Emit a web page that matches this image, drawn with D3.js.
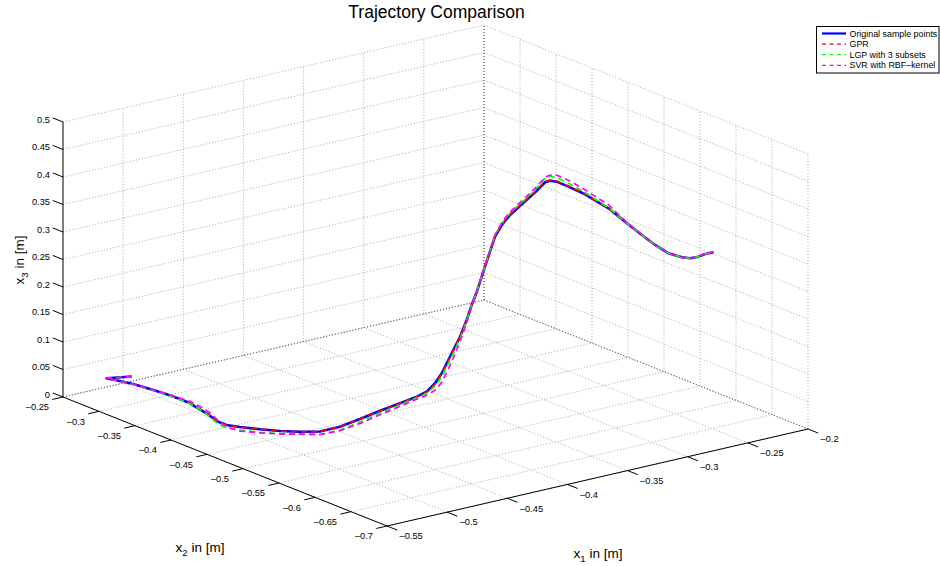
<!DOCTYPE html>
<html><head><meta charset="utf-8">
<script src="https://cdn.jsdelivr.net/npm/d3@7"></script>
<style>body{margin:0;background:#fff}svg text{font-family:"Liberation Sans",Arial,Helvetica,sans-serif;fill:#000}</style>
</head><body><svg id="c" width="940" height="566"></svg>
<script>
// ---------------- data ----------------
const seriesNames = ["Original sample points", "GPR", "LGP with 3 subsets", "SVR with RBF\u2013kernel"];
const seriesColors = ["#0000ff", "#ff0000", "#00ff00", "#ff00ff"];
const x1Ticks = [-0.55, -0.5, -0.45, -0.4, -0.35, -0.3, -0.25, -0.2];
const x2Ticks = [-0.25, -0.3, -0.35, -0.4, -0.45, -0.5, -0.55, -0.6, -0.65, -0.7];
const x3Ticks = [0, 0.05, 0.1, 0.15, 0.2, 0.25, 0.3, 0.35, 0.4, 0.45, 0.5];

const x1Vals = [-0.5194,-0.5351,-0.5317,-0.5279,-0.5242,-0.5210,-0.5188,-0.5177,-0.5182,-0.5192,
  -0.5206,-0.5191,-0.5133,-0.5043,-0.4953,-0.4857,-0.4756,-0.4609,-0.4431,-0.4252,
  -0.4085,-0.3946,-0.3864,-0.3796,-0.3774,-0.3745,-0.3732,-0.3703,-0.3665,-0.3622,
  -0.3601,-0.3557,-0.3512,-0.3469,-0.3424,-0.3357,-0.3263,-0.3143,-0.3031,-0.2984,
  -0.2947,-0.2894,-0.2819,-0.2793,-0.2750,-0.2731,-0.2709,-0.2684,-0.2651,-0.2575,
  -0.2523,-0.2458,-0.2394,-0.2343];
const x2Vals = [-0.2945,-0.2856,-0.2984,-0.3105,-0.3277,-0.3455,-0.3602,-0.3723,-0.3870,-0.4026,
  -0.4165,-0.4256,-0.4344,-0.4472,-0.4599,-0.4716,-0.4826,-0.4858,-0.4838,-0.4818,
  -0.4817,-0.4817,-0.4818,-0.4820,-0.4877,-0.4920,-0.4968,-0.5012,-0.5041,-0.5039,
  -0.5075,-0.5092,-0.5109,-0.5107,-0.5126,-0.5129,-0.5135,-0.5120,-0.5071,-0.5061,
  -0.5093,-0.5165,-0.5272,-0.5322,-0.5482,-0.5681,-0.5877,-0.6020,-0.6150,-0.6209,
  -0.6237,-0.6244,-0.6230,-0.6259];
const x3Orig = [0.045,0.045,0.045,0.044,0.042,0.040,0.038,0.036,0.033,0.030,
  0.027,0.025,0.023,0.021,0.020,0.020,0.021,0.024,0.028,0.033,
  0.038,0.043,0.048,0.060,0.080,0.105,0.125,0.150,0.180,0.205,
  0.230,0.265,0.300,0.325,0.345,0.360,0.375,0.390,0.400,0.400,
  0.398,0.390,0.378,0.372,0.360,0.345,0.330,0.318,0.308,0.300,
  0.297,0.297,0.298,0.300];
const x3GPR = [0.045,0.045,0.045,0.044,0.042,0.040,0.038,0.036,0.033,0.030,
  0.027,0.025,0.023,0.021,0.020,0.020,0.021,0.024,0.028,0.033,
  0.038,0.043,0.047,0.059,0.079,0.104,0.125,0.150,0.180,0.205,
  0.231,0.266,0.301,0.326,0.346,0.361,0.376,0.391,0.401,0.401,
  0.399,0.391,0.378,0.372,0.360,0.345,0.330,0.318,0.308,0.300,
  0.297,0.297,0.298,0.300];
const x3LGP = [0.045,0.045,0.045,0.0431,0.0411,0.0391,0.0371,0.0351,0.033,0.0282,
  0.0225,0.0195,0.0175,0.0155,0.0155,0.0155,0.0155,0.0176,0.0225,0.0285,
  0.0353,0.0412,0.0453,0.0545,0.0736,0.0986,0.1195,0.1464,0.1782,0.205,
  0.2309,0.2659,0.3018,0.3277,0.3486,0.3636,0.3786,0.3945,0.4073,0.4082,
  0.4053,0.3964,0.3816,0.3747,0.3609,0.345,0.33,0.318,0.308,0.30,
  0.297,0.297,0.298,0.30];
const x3SVR = [0.045,0.045,0.045,0.044,0.042,0.0409,0.0398,0.0396,0.0385,0.0355,
  0.0288,0.0214,0.0157,0.0146,0.0145,0.0155,0.0155,0.0167,0.0198,0.0257,
  0.0325,0.0385,0.0416,0.0473,0.0636,0.0886,0.1105,0.1409,0.1745,0.2032,
  0.2309,0.2668,0.3018,0.3277,0.3495,0.3655,0.3814,0.3973,0.4091,0.41,
  0.4098,0.4018,0.3862,0.3793,0.3664,0.3468,0.33,0.318,0.308,0.30,
  0.297,0.297,0.298,0.30];
const x3Series = [x3Orig, x3GPR, x3LGP, x3SVR];

// ---------------- projection ----------------
const svg = d3.select("#c");
const origin = [387, 526];          // screen position of (x1min, x2min, x3min)
const e1 = [421, -97], e2 = [-324, -129], e3 = [0, -275];
const s1 = d3.scaleLinear().domain([-0.55, -0.2]).range([0, 1]);
const s2 = d3.scaleLinear().domain([-0.7, -0.25]).range([0, 1]);
const s3 = d3.scaleLinear().domain([0, 0.5]).range([0, 1]);
function P(a, b, c) {
  const u = s1(a), v = s2(b), w = s3(c);
  return [origin[0] + u*e1[0] + v*e2[0] + w*e3[0], origin[1] + u*e1[1] + v*e2[1] + w*e3[1]];
}
const X1 = s1.domain(), X2 = s2.domain(), X3 = s3.domain();
const fmt = v => (v < 0 ? "\u2013" : "") + String(Math.abs(v));

// ---------------- grid ----------------
const grid = [];
x3Ticks.forEach(z => { grid.push([P(X1[0], X2[1], z), P(X1[1], X2[1], z)]); grid.push([P(X1[1], X2[1], z), P(X1[1], X2[0], z)]); });
x1Ticks.forEach(x => { if (x !== X1[0]) grid.push([P(x, X2[1], 0), P(x, X2[1], 0.5)]); grid.push([P(x, X2[0], 0), P(x, X2[1], 0)]); });
x2Ticks.forEach(y => { grid.push([P(X1[1], y, 0), P(X1[1], y, 0.5)]); grid.push([P(X1[0], y, 0), P(X1[1], y, 0)]); });
svg.append("g").selectAll("line").data(grid).join("line")
  .attr("x1", d => d[0][0]).attr("y1", d => d[0][1]).attr("x2", d => d[1][0]).attr("y2", d => d[1][1])
  .attr("stroke", "#a0a0a0").attr("stroke-width", 0.9).attr("stroke-dasharray", "1,2");
const edges = [[P(X1[0], X2[1], 0), P(X1[1], X2[1], 0)], [P(X1[1], X2[1], 0), P(X1[1], X2[0], 0)], [P(X1[1], X2[1], 0), P(X1[1], X2[1], 0.5)]];
svg.append("g").selectAll("line").data(edges).join("line")
  .attr("x1", d => d[0][0]).attr("y1", d => d[0][1]).attr("x2", d => d[1][0]).attr("y2", d => d[1][1])
  .attr("stroke", "#555").attr("stroke-width", 0.9).attr("stroke-dasharray", "1,2");

// ---------------- axes ----------------
const ax = svg.append("g").attr("stroke", "#000").attr("stroke-width", 1);
function seg(p, q) { ax.append("line").attr("x1", p[0]).attr("y1", p[1]).attr("x2", q[0]).attr("y2", q[1]); }
seg(P(X1[0], X2[1], 0), P(X1[0], X2[1], 0.5));
seg(P(X1[0], X2[1], 0), P(X1[0], X2[0], 0));
seg(P(X1[0], X2[0], 0), P(X1[1], X2[0], 0));
const tl = 11;
const n1 = [-0.974, 0.224], n2 = [0.929, 0.370], n3 = [-0.929, -0.370];
const lab = svg.append("g").style("font-size", "9.3px");
x3Ticks.forEach(z => {
  const p = P(X1[0], X2[1], z);
  seg(p, [p[0] + tl*n3[0], p[1] + tl*n3[1]]);
  lab.append("text").attr("x", p[0] - 13).attr("y", p[1] - 2.7).attr("text-anchor", "end").attr("dy", "0.35em").text(fmt(z));
});
x2Ticks.forEach(y => {
  const p = P(X1[0], y, 0);
  seg(p, [p[0] + tl*n1[0], p[1] + tl*n1[1]]);
  lab.append("text").attr("x", p[0] - 14).attr("y", p[1] + 10).attr("text-anchor", "end").attr("dy", "0.35em").text(fmt(y));
});
x1Ticks.forEach(x => {
  const p = P(x, X2[0], 0);
  seg(p, [p[0] + tl*n2[0], p[1] + tl*n2[1]]);
  lab.append("text").attr("x", p[0] + 12.5).attr("y", p[1] + 10).attr("text-anchor", "start").attr("dy", "0.35em").text(fmt(x));
});

// axis titles
function axTitle(sub, x, y, rot) {
  const t = svg.append("text").style("font-size", "13.5px").attr("text-anchor", "middle")
    .attr("transform", `translate(${x},${y})` + (rot ? " rotate(-90)" : ""));
  t.append("tspan").text("x");
  t.append("tspan").attr("dy", 4).style("font-size", "9.5px").text(sub);
  t.append("tspan").attr("dy", -4).text(" in [m]");
}
axTitle("2", 200, 551.5, false);
axTitle("1", 598, 558, false);
axTitle("3", 23.5, 260, true);

svg.append("text").attr("x", 436.5).attr("y", 17.5).attr("text-anchor", "middle").style("font-size", "17.5px").text("Trajectory Comparison");

// ---------------- curves ----------------
const line = d3.line();
x3Series.forEach((zs, i) => {
  const pts = zs.map((z, k) => P(x1Vals[k], x2Vals[k], z));
  svg.append("path").attr("d", line(pts)).attr("fill", "none")
    .attr("stroke", seriesColors[i]).attr("stroke-width", i === 0 ? 2.6 : 1.7)
    .attr("stroke-linejoin", "round")
    .attr("stroke-dasharray", i === 0 ? null : "6,4");
});

// ---------------- legend ----------------
const lg = svg.append("g");
lg.append("rect").attr("x", 816.5).attr("y", 26.5).attr("width", 122.5).attr("height", 46.5)
  .attr("fill", "#fff").attr("stroke", "#000").attr("stroke-width", 1);
seriesNames.forEach((n, i) => {
  const y = 33.5 + i*10.6;
  lg.append("line").attr("x1", 822).attr("x2", 846).attr("y1", y).attr("y2", y)
    .attr("stroke", seriesColors[i]).attr("stroke-width", i === 0 ? 2.2 : 1.3)
    .attr("stroke-dasharray", i === 0 ? null : "4,3.5");
  lg.append("text").attr("x", 849.5).attr("y", y).attr("dy", "0.35em").style("font-size", "8.9px").text(n);
});
</script></body></html>
